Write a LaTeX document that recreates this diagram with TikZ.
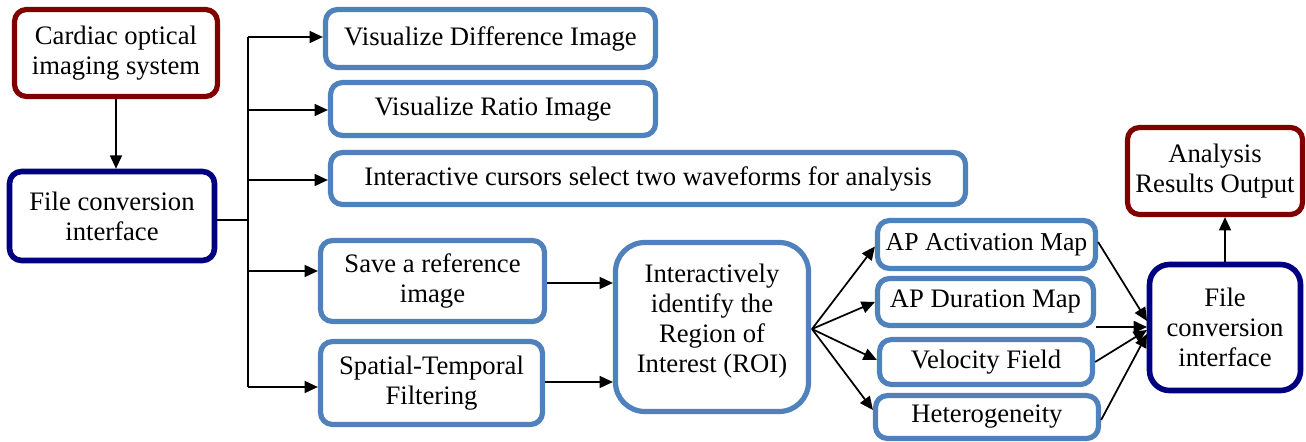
\documentclass[tikz,border=0pt]{standalone}
\usepackage{fontspec}
\setmainfont{Liberation Serif}
\newfontfamily\tnr{Liberation Serif}
\usetikzlibrary{arrows.meta,calc}
\definecolor{dred}{HTML}{800000}
\definecolor{dnavy}{HTML}{000080}
\definecolor{lblue}{HTML}{4F81BD}
\tikzset{
  basebox/.style={rectangle, rounded corners=9pt, fill=white, align=center, inner sep=0pt,
    font=\tnr\fontsize{20pt}{22.5pt}\selectfont, text=black},
  redbox/.style={basebox, draw=dred, line width=3.9pt},
  navybox/.style={basebox, draw=dnavy, line width=4.2pt},
  bluebox/.style={basebox, draw=lblue, line width=3.9pt},
  conn/.style={line width=1.3pt, draw=black},
  arr/.style={conn, -{Triangle[length=10pt,width=9pt]}},
}
\begin{document}
\begin{tikzpicture}[x=0.75pt,y=-0.75pt]
\useasboundingbox (0,0) rectangle (1306,442);
% nodes
\node[redbox, minimum width=152.25pt, minimum height=65.25pt] (cardiac) at (116,53) {Cardiac optical\\imaging system};
\node[navybox, minimum width=153.75pt, minimum height=66.75pt] (fileL) at (112,216) {File conversion\\interface};
\node[bluebox, minimum width=247.5pt, minimum height=43.5pt] (visdiff) at (490.5,38.5) {Visualize Difference Image};
\node[bluebox, minimum width=243.75pt, minimum height=39.75pt] (ratio) at (493,109) {Visualize Ratio Image};
\node[bluebox, minimum width=476.25pt, minimum height=39pt] (inter) at (648,178.5) {Interactive cursors select two waveforms for analysis};
\node[bluebox, minimum width=168pt, minimum height=60.75pt] (saveref) at (432.5,281) {Save a reference\\image};
\node[bluebox, minimum width=166.5pt, minimum height=62.25pt] (spatial) at (431.5,383) {Spatial-Temporal\\Filtering};
\node[bluebox, rounded corners=22pt, minimum width=144.75pt, minimum height=126.75pt] (roi) at (712,327) {};
\node[basebox, fill=none] (roitext) at (712,321) {Interactively\\identify the\\Region of\\Interest (ROI)};
\node[bluebox, minimum width=163.5pt, minimum height=36pt, font=\tnr\fontsize{19.3pt}{22pt}\selectfont] (apact) at (986.5,244.5) {AP Activation Map};
\node[bluebox, minimum width=162pt, minimum height=35.25pt] (apdur) at (985.5,302) {AP Duration Map};
\node[bluebox, minimum width=159.75pt, minimum height=33.75pt] (vel) at (986,362) {Velocity Field};
\node[bluebox, minimum width=167.25pt, minimum height=32.25pt] (het) at (987,417) {Heterogeneity};
\node[navybox, rounded corners=15pt, minimum width=113.25pt, minimum height=94.5pt] (fileR) at (1225,327.5) {File\\conversion\\interface};
\node[redbox, minimum width=131.25pt, minimum height=65.25pt] (analysis) at (1215,171) {Analysis\\Results Output};
% coordinates
\coordinate (bTop) at (248,37);
\coordinate (b2) at (248,110);
\coordinate (b3) at (248,180);
\coordinate (bMid) at (248,220);
\coordinate (b4) at (248,271);
\coordinate (bBot) at (248,387);
\coordinate (fan) at (812,329);
\coordinate (sr) at (0,283);
\coordinate (sp) at (0,382);
\coordinate (fr1) at (1147,321);
\coordinate (fr2) at (1147,327);
\coordinate (fr3) at (1147,330);
\coordinate (fr4) at (1147,334);
\coordinate (h1) at (0,327);
\coordinate (h2) at (0,420);
\coordinate (a1) at (0,242);
% connectors
\draw[arr] (cardiac.south) -- (cardiac.south |- fileL.north);
\draw[conn] (fileL.east |- bMid) -- (bMid);
\draw[conn] (bTop) -- (bBot);
\draw[arr] (bTop) -- (bTop -| visdiff.west);
\draw[arr] (b2) -- (b2 -| ratio.west);
\draw[arr] (b3) -- (b3 -| inter.west);
\draw[arr] (b4) -- (b4 -| saveref.west);
\draw[arr] (bBot) -- (bBot -| spatial.west);
\draw[arr] (saveref.east |- sr) -- (roi.west |- sr);
\draw[arr] (spatial.east |- sp) -- (roi.west |- sp);
\draw[arr] (fan) -- ($(apact.west)+(0,2)$);
\draw[arr] (fan) -- (apdur.west);
\draw[arr] (fan) -- ($(vel.west)+(0,-2)$);
\draw[arr] (fan) -- ($(het.west)+(0,-7)$);
\draw[arr] (apact.east |- a1) -- (fr1);
\draw[arr] (apdur.east |- h1) -- (fr2);
\draw[arr] (vel.east) -- (fr3);
\draw[arr] (het.east |- h2) -- (fr4);
\draw[arr] (fileR.north) -- (fileR.north |- analysis.south);
\end{tikzpicture}
\end{document}
